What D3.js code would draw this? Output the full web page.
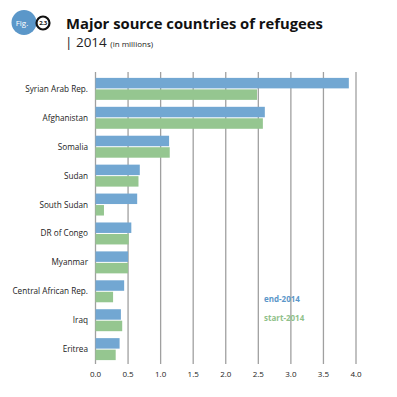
<!DOCTYPE html>
<html>
<head>
<meta charset="utf-8">
<script src="https://cdn.jsdelivr.net/npm/d3@7"></script>
<style>
  body { margin: 0; background: #fff; }
  text { font-family: "Open Sans", Lato, sans-serif; }
</style>
</head>
<body>
<div id="chart"></div>
<script>
// data (millions of refugees)
var countries = ["Syrian Arab Rep.", "Afghanistan", "Somalia", "Sudan", "South Sudan",
                 "DR of Congo", "Myanmar", "Central African Rep.", "Iraq", "Eritrea"];
var end2014 = [3.89, 2.60, 1.13, 0.68, 0.64, 0.55, 0.50, 0.44, 0.39, 0.37];
var start2014 = [2.48, 2.57, 1.14, 0.66, 0.13, 0.51, 0.50, 0.27, 0.41, 0.31];
var ticks = [0, 0.5, 1.0, 1.5, 2.0, 2.5, 3.0, 3.5, 4.0];
var seriesNames = ["end-2014", "start-2014"];

var blue = "#72a7d2", green = "#95c690";

var svg = d3.select("#chart").append("svg")
    .attr("width", 397)
    .attr("height", 397);

// fig badge
svg.append("circle")
    .attr("cx", 24).attr("cy", 22.5).attr("r", 12.5)
    .style("fill", "#5b97c9");
svg.append("text")
    .attr("x", 22).attr("y", 25.5)
    .attr("text-anchor", "middle")
    .style("font-size", "8px")
    .style("fill", "#fff")
    .text("Fig.");
svg.append("circle")
    .attr("cx", 43).attr("cy", 23).attr("r", 6.5)
    .style("fill", "#fff")
    .style("stroke", "#111")
    .style("stroke-width", 2.2);
svg.append("text")
    .attr("x", 43).attr("y", 25.3)
    .attr("text-anchor", "middle")
    .style("font-size", "6px")
    .style("letter-spacing", "-0.4px")
    .style("font-weight", "bold")
    .style("fill", "#111")
    .text("2.3");

// title
svg.append("text")
    .attr("x", 66).attr("y", 29)
    .style("font-size", "14.8px")
    .style("font-weight", "bold")
    .style("fill", "#111")
    .text("Major source countries of refugees");
var sub = svg.append("text")
    .attr("x", 65).attr("y", 47)
    .style("fill", "#222");
sub.append("tspan")
    .style("font-size", "13.5px")
    .style("fill", "#222")
    .text("| 2014 ");
sub.append("tspan")
    .style("font-size", "8px")
    .style("fill", "#222")
    .text("(in millions)");

// scales
var x = d3.scaleLinear().domain([0, 4]).range([95.5, 356]);
var y = d3.scaleBand().domain(countries).range([75, 363]).paddingInner(0.24).paddingOuter(0.1);

// gridlines
svg.append("g")
    .selectAll("line")
    .data(ticks)
    .enter()
    .append("line")
    .attr("x1", function(d) { return x(d); })
    .attr("x2", function(d) { return x(d); })
    .attr("y1", 72)
    .attr("y2", 364)
    .style("stroke", "#a0a0a0")
    .style("stroke-width", 1.3);

// tick labels
svg.append("g")
    .selectAll("text")
    .data(ticks)
    .enter()
    .append("text")
    .attr("x", function(d) { return x(d); })
    .attr("y", 377)
    .attr("text-anchor", "middle")
    .style("font-size", "8px")
    .style("fill", "#222")
    .text(function(d) { return d.toFixed(1); });

// bars
var half = y.bandwidth() / 2;
svg.append("g")
    .selectAll("rect")
    .data(countries)
    .enter()
    .append("rect")
    .attr("x", x(0))
    .attr("y", function(d) { return y(d); })
    .attr("width", function(d, i) { return x(end2014[i]) - x(0); })
    .attr("height", half - 0.5)
    .style("fill", blue);

svg.append("g")
    .selectAll("rect")
    .data(countries)
    .enter()
    .append("rect")
    .attr("x", x(0))
    .attr("y", function(d) { return y(d) + half + 0.5; })
    .attr("width", function(d, i) { return x(start2014[i]) - x(0); })
    .attr("height", half - 0.5)
    .style("fill", green);

// country labels
svg.append("g")
    .selectAll("text")
    .data(countries)
    .enter()
    .append("text")
    .attr("x", 88)
    .attr("y", function(d) { return y(d) + half + 3; })
    .attr("text-anchor", "end")
    .style("font-size", "8.2px")
    .style("fill", "#222")
    .text(function(d) { return d; });

// legend
svg.append("g")
    .selectAll("text")
    .data(seriesNames)
    .enter()
    .append("text")
    .attr("x", 264)
    .attr("y", function(d, i) { return 302 + i * 19; })
    .style("font-size", "8px")
    .style("font-weight", "bold")
    .style("fill", function(d, i) { return i == 0 ? "#5b97c9" : "#8fc18a"; })
    .text(function(d) { return d; });
</script>
</body>
</html>
